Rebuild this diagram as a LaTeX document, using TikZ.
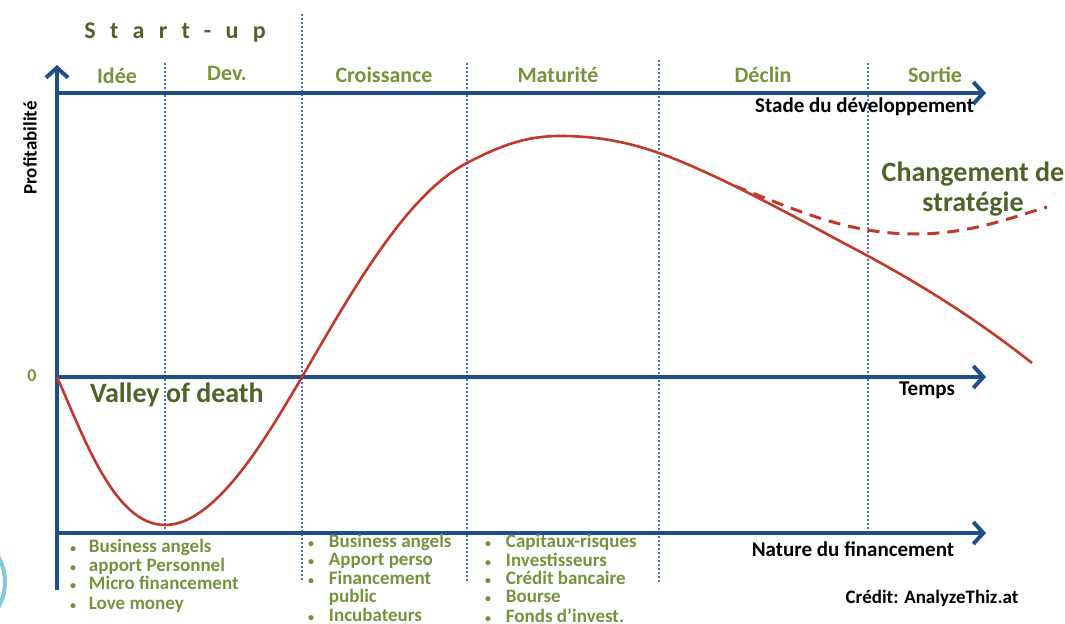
\documentclass[tikz,border=0pt]{standalone}
\usepackage{fontspec}
\setmainfont{Carlito}
\usetikzlibrary{arrows.meta}
\definecolor{axisblue}{HTML}{1F4E8C}
\definecolor{dotblue}{HTML}{4472C4}
\definecolor{curvered}{HTML}{C0392B}
\definecolor{stagegreen}{HTML}{76923C}
\definecolor{darkgreen}{HTML}{4F6228}
\definecolor{ringcyan}{HTML}{7ECBD3}
\newcommand{\dotitem}{{\fontsize{6}{6}\selectfont\textbullet}}
\begin{document}
\begin{tikzpicture}[x=0.5pt,y=-0.5pt,every node/.style={inner sep=0,outer sep=0},
  axis/.style={axisblue,line width=2pt,-{Straight Barb[length=5pt,width=11pt]}},
  phase/.style={dotblue,line width=1.2pt,dash pattern=on 1.2pt off 0.8pt},
  stage/.style={font=\fontsize{11}{13}\selectfont\bfseries,text=stagegreen},
  axlabel/.style={font=\fontsize{10.5}{12}\selectfont\bfseries},
  fund/.style={font=\fontsize{9.5}{9}\selectfont\bfseries,text=stagegreen,anchor=north west},
  big/.style={font=\fontsize{14}{15}\selectfont\bfseries,text=darkgreen}]
\useasboundingbox (0,0) rectangle (1065,624);
\draw [ringcyan,line width=2pt] (-46,582) circle [radius=51];

% phases
\draw [phase] (165,63) -- (165,533);
\draw [phase] (302,14) -- (302,582);
\draw [phase] (467,63) -- (467,582);
\draw [phase] (659,60) -- (659,582);
\draw [phase] (868,63) -- (868,533);

% axes
\coordinate (ybot) at (57,590); \coordinate (ytop) at (57,65);
\coordinate (stadeL) at (57,93); \coordinate (stadeR) at (986,93);
\coordinate (zero) at (57,377); \coordinate (tempsR) at (986,377);
\coordinate (finL) at (57,533); \coordinate (finR) at (986,533);
\draw [axis] (ybot) -- (ytop);
\draw [axis] (stadeL) -- (stadeR);
\draw [axis] (zero) -- (tempsR);
\draw [axis] (finL) -- (finR);

% curve
\draw [curvered,line width=1.3pt] (zero) .. controls (85,440) and (115,525) .. (165,525)
  .. controls (215,525) and (265,440) .. (302,377) .. controls (350,295) and (405,195) .. (467,163)
  .. controls (505,143) and (530,136) .. (560,136) .. controls (600,136) and (630,143) .. (659,153)
  .. controls (720,175) and (800,220) .. (868,256) .. controls (940,295) and (990,330) .. (1032,363);
\draw [curvered,line width=1.5pt,dash pattern=on 6pt off 4pt] (735,186) .. controls (800,212) and (850,234) .. (915,234)
  .. controls (970,234) and (1010,218) .. (1047,207);

% texts
\node (startup) [font=\fontsize{12}{12}\selectfont\bfseries\addfontfeature{LetterSpace=60},text=darkgreen] at (175,33) {Start-up};
\node (idee) [stage] at (117,76) {Idée};
\node (dev) [stage] at (227,73) {Dev.};
\node (croiss) [stage] at (384,75) {Croissance};
\node (matur) [stage] at (558,75) {Maturité};
\node (declin) [stage] at (763,75) {Déclin};
\node (sortie) [stage] at (935,75) {Sortie};
\node (stade) [axlabel,anchor=east] at (974,107) {Stade du développement};
\node (temps) [axlabel] at (927,390) {Temps};
\node (nature) [axlabel] at (853,549) {Nature du financement};
\node (credit) [font=\fontsize{9.5}{10}\selectfont\bfseries] at (932,598) {Crédit: AnalyzeThiz.at};
\node (profit) [font=\fontsize{9.5}{10}\selectfont\bfseries,rotate=90] at (30,148) {Profitabilité};
\node (nul) [font=\fontsize{9}{10}\selectfont\bfseries,text=stagegreen] at (32,376) {0};
\node (valley) [big,anchor=west] at (90,395) {Valley of death};
\node (change) [big,align=center] at (973,189) {Changement de\\stratégie};

% financement
\node (fundA) [fund] at (70,539) {\begin{tabular}{@{}l@{\hspace{6.5pt}}l@{}}\dotitem&Business angels\\ \dotitem&apport Personnel\\ \dotitem&Micro financement\\[1pt] \dotitem&Love money\end{tabular}};
\node (fundB) [fund] at (308,534) {\begin{tabular}{@{}l@{\hspace{7.5pt}}l@{}}\dotitem&Business angels\\ \dotitem&Apport perso\\ \dotitem&Financement\\ &public\\ \dotitem&Incubateurs\end{tabular}};
\node (fundC) [fund] at (485,534) {\begin{tabular}{@{}l@{\hspace{7.5pt}}l@{}}\dotitem&Capitaux-risques\\ \dotitem&Investisseurs\\ \dotitem&Crédit bancaire\\ \dotitem&Bourse\\ \dotitem&Fonds d’invest.\end{tabular}};
\end{tikzpicture}
\end{document}
